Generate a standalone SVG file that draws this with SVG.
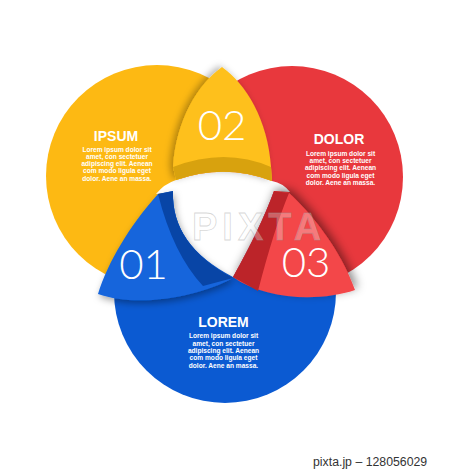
<svg xmlns="http://www.w3.org/2000/svg" width="450" height="469" viewBox="0 0 450 469">
  <style>
    .title { font-family: "Liberation Sans", Arial, sans-serif; font-weight: bold; font-size: 14px; fill: #fff; text-anchor: middle; }
    .body { font-family: "Liberation Sans", Arial, sans-serif; font-weight: bold; font-size: 6.6px; fill: #fff; text-anchor: middle; }
    .num { font-family: Lato, "Open Sans", sans-serif; font-weight: 300; font-size: 42px; fill: #fff; text-anchor: middle; }
  </style>
  <defs>
    <filter id="sh02" x="-30%" y="-30%" width="160%" height="160%">
      <feDropShadow dx="-3" dy="-1" stdDeviation="3.5" flood-color="#000" flood-opacity="0.3"/>
    </filter>
    <filter id="sh01" x="-30%" y="-30%" width="160%" height="160%">
      <feDropShadow dx="1.5" dy="3" stdDeviation="3.5" flood-color="#000" flood-opacity="0.35"/>
    </filter>
    <filter id="sh03" x="-30%" y="-30%" width="160%" height="160%">
      <feDropShadow dx="2.5" dy="-3" stdDeviation="5" flood-color="#000" flood-opacity="0.45"/>
    </filter>
  </defs>
  <rect width="450" height="469" fill="#fff"/>

  <g id="circle-ipsum">
    <circle cx="157" cy="176" r="111" fill="#FDB913"/>
    <text class="title" x="116" y="141">IPSUM</text>
    <text class="body" x="117" y="151.6">Lorem ipsum dolor sit</text>
    <text class="body" x="117" y="158.9">amet, con sectetuer</text>
    <text class="body" x="117" y="166.1">adipiscing elit. Aenean</text>
    <text class="body" x="117" y="173.4">com modo ligula eget</text>
    <text class="body" x="117" y="180.6">dolor. Aene an massa.</text>
  </g>

  <g id="circle-dolor">
    <circle cx="292" cy="177" r="111" fill="#E8383D"/>
    <text class="title" x="339" y="144.3">DOLOR</text>
    <text class="body" x="340.5" y="155.8">Lorem ipsum dolor sit</text>
    <text class="body" x="340.5" y="163.2">amet, con sectetuer</text>
    <text class="body" x="340.5" y="170.3">adipiscing elit. Aenean</text>
    <text class="body" x="340.5" y="177.5">com modo ligula eget</text>
    <text class="body" x="340.5" y="184.6">dolor. Aene an massa.</text>
  </g>

  <g id="circle-lorem">
    <circle cx="225" cy="292" r="111" fill="#0B5AD2"/>
    <text class="title" x="223.5" y="326.5">LOREM</text>
    <text class="body" x="223.5" y="338">Lorem ipsum dolor sit</text>
    <text class="body" x="223.5" y="345.6">amet, con sectetuer</text>
    <text class="body" x="223.5" y="353">adipiscing elit. Aenean</text>
    <text class="body" x="223.5" y="360.3">com modo ligula eget</text>
    <text class="body" x="223.5" y="367.6">dolor. Aene an massa.</text>
  </g>

  <g id="center-hole">
    <path d="M176,180 Q225,163 272,181 Q283,183 290,192 L274,191 Q261,227 233,277 Q171,245 173,192 L156,194 Q164,184 176,180 Z" fill="#fff"/>
  </g>

  <g id="tab-01">
    <path d="M98,294 C108,262 130,225 158,194 L173,191 Q171,245 233,278 C198,297 138,308 98,294 Z" fill="#1565DC" filter="url(#sh01)"/>
    <path d="M158,194 L173,191 Q171,245 233,278 L203,286 Q173,254 158,194 Z" fill="#0845A6"/>
    <text class="num" x="143.5" y="279.3">01</text>
  </g>

  <g id="tab-03">
    <path d="M274,191 L289,193 C310,212 340,248 355,290 C320,302 265,300 233,277 Q261,227 274,191 Z" fill="#F34649" filter="url(#sh03)"/>
    <path d="M274,191 L289,193 Q274,229 258,291 L233,277 Q261,227 274,191 Z" fill="#BC2429"/>
    <text class="num" x="306" y="276.7">03</text>
  </g>

  <g id="tab-02">
    <path d="M222,67 C198,84 176,120 173,167 L176,180 Q225,163 272,181 L271,167 C268,120 246,84 222,67 Z" fill="#FEC01F" filter="url(#sh02)"/>
    <path d="M173,167 Q225,147 271,167 L272,181 Q225,163 176,180 Z" fill="#D8A20E"/>
    <text class="num" x="222" y="140">02</text>
  </g>

  <text x="192" y="240" font-family="Liberation Sans, Arial, sans-serif" font-weight="bold" font-size="38" letter-spacing="5" fill="#fff" fill-opacity="0.3" stroke="#999" stroke-opacity="0.4" stroke-width="0.8">PIXTA</text>
  <text x="313" y="465.5" font-family="Liberation Sans, Arial, sans-serif" font-size="12.3" fill="#333">pixta.jp – 128056029</text>
</svg>
